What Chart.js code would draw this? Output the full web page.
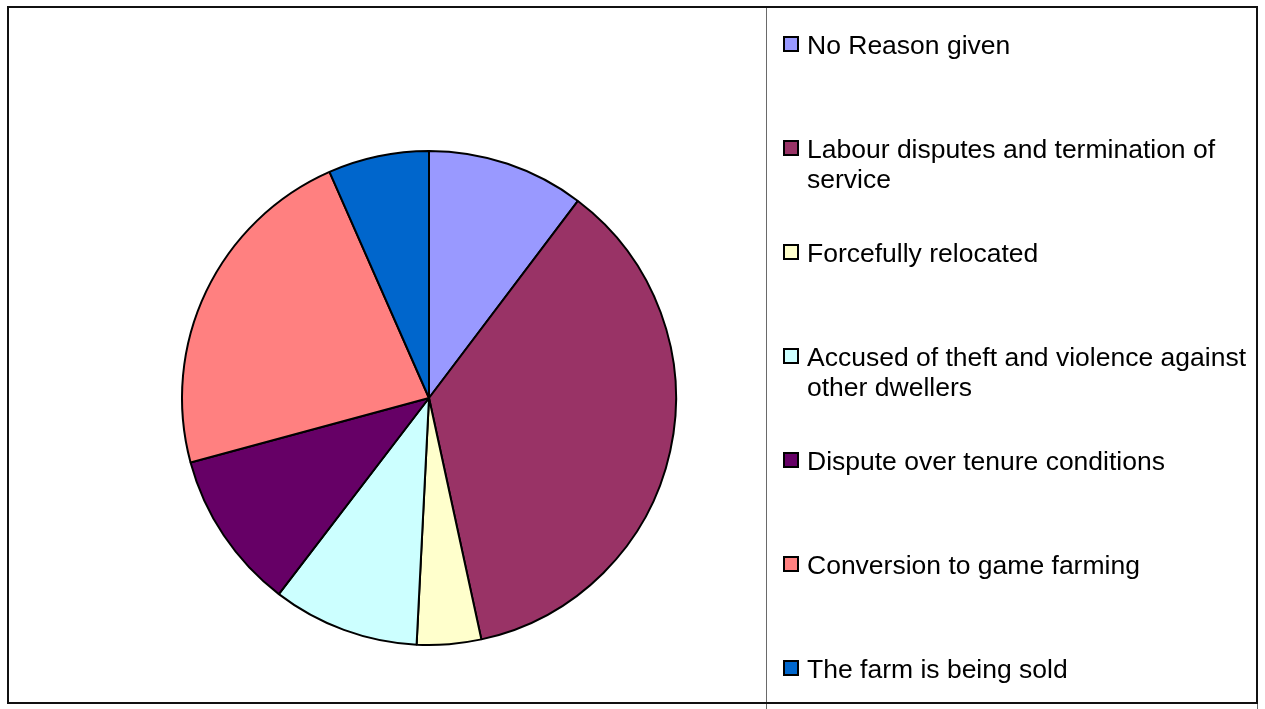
<!DOCTYPE html>
<html>
<head>
<meta charset="utf-8">
<script src="https://cdn.jsdelivr.net/npm/chart.js@4/dist/chart.umd.min.js"></script>
<style>
  html, body { margin: 0; padding: 0; background: #fff; }
  body { width: 1265px; height: 709px; position: relative; overflow: hidden; font-family: "Liberation Sans", Arial, sans-serif; }
  #wrap { position: absolute; left: 0; top: 0; width: 1265px; height: 709px; }
  #frame { position: absolute; left: 7px; top: 6px; width: 1251px; height: 698px; box-sizing: border-box; border: 2px solid #111; pointer-events: none; }
  #legbox { position: absolute; left: 766px; top: 6px; width: 492px; height: 740px; box-sizing: border-box; border: 1px solid #6a6a6a; border-top: none; pointer-events: none; }
  .item { position: absolute; left: 783px; }
  .mk { position: absolute; left: 0; top: 6px; width: 16px; height: 16px; box-sizing: border-box; border: 2px solid #000; }
  .tx { position: absolute; left: 24px; top: 0; width: 452px; font-size: 26.5px; line-height: 30px; color: #000; }
</style>
</head>
<body>
<div id="wrap"><canvas id="c" width="1265" height="709"></canvas></div>
<div id="legbox"></div>
<div id="frame"></div>
<div id="legend"></div>
<script>
const categories = [
  "No Reason given",
  "Labour disputes and termination of service",
  "Forcefully relocated",
  "Accused of theft and violence against other dwellers",
  "Dispute over tenure conditions",
  "Conversion to game farming",
  "The farm is being sold"
];
const values = [10.3, 36.3, 4.2, 9.6, 10.4, 22.6, 6.6];
const colors = ["#9999FF", "#993366", "#FFFFCC", "#CCFFFF", "#660066", "#FF8080", "#0066CC"];

const chart = new Chart(document.getElementById('c'), {
  type: 'pie',
  data: {
    labels: categories,
    datasets: [{
      data: values,
      backgroundColor: colors,
      borderColor: '#000',
      borderWidth: 2
    }]
  },
  options: {
    responsive: false,
    animation: false,
    layout: { padding: { left: 181, right: 588, top: 149, bottom: 62 } },
    plugins: { legend: { display: false }, tooltip: { enabled: false } }
  }
});

const leg = document.getElementById('legend');
chart.data.labels.forEach((lab, i) => {
  const it = document.createElement('div');
  it.className = 'item';
  it.style.top = (30 + i * 104) + 'px';
  const mk = document.createElement('div');
  mk.className = 'mk';
  mk.style.background = chart.data.datasets[0].backgroundColor[i];
  const tx = document.createElement('div');
  tx.className = 'tx';
  tx.textContent = lab;
  it.appendChild(mk);
  it.appendChild(tx);
  leg.appendChild(it);
});
</script>
</body>
</html>
